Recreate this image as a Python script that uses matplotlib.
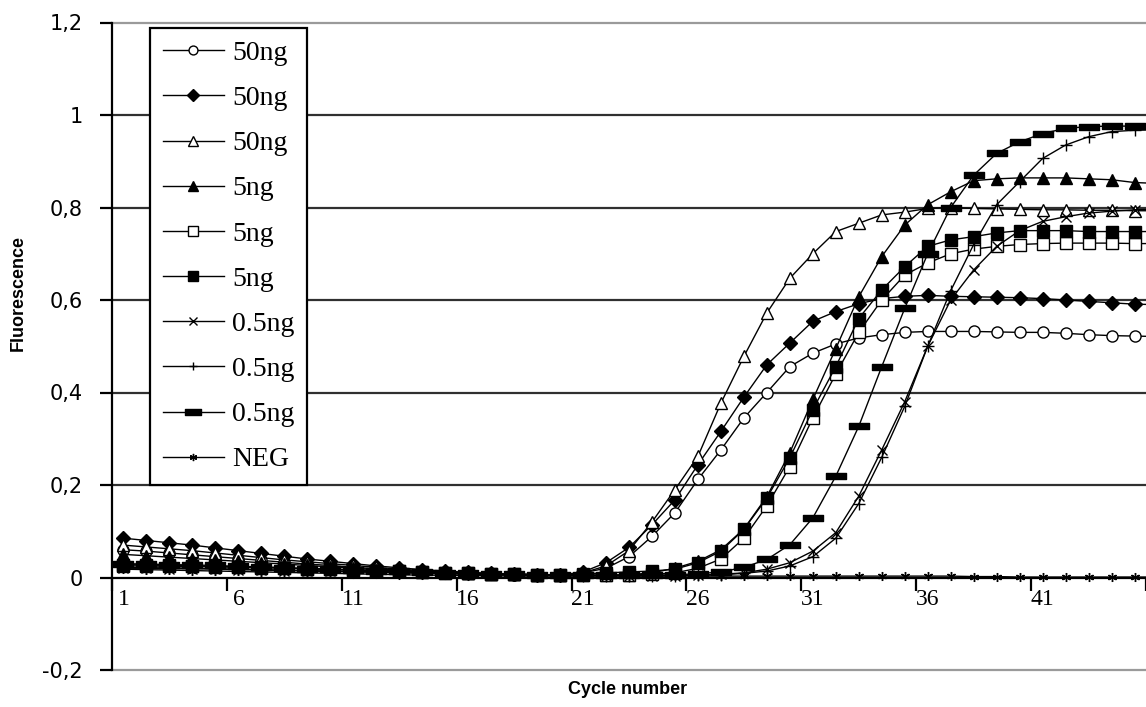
import numpy as np
import matplotlib
matplotlib.use("Agg")
import matplotlib.pyplot as plt
from matplotlib.path import Path

# ── Data ────────────────────────────────────────────────────────────────
cycles = list(range(1, 47))

circle_50 = [0.060, 0.057, 0.053, 0.049, 0.045, 0.041, 0.037, 0.033, 0.029, 0.026,
             0.022, 0.019, 0.016, 0.013, 0.011, 0.009, 0.007, 0.006, 0.005, 0.005,
             0.010, 0.020, 0.045, 0.089, 0.140, 0.212, 0.276, 0.345, 0.400, 0.456,
             0.485, 0.505, 0.518, 0.525, 0.530, 0.532, 0.532, 0.532, 0.531, 0.530,
             0.530, 0.528, 0.525, 0.523, 0.522, 0.521]
diamond_50 = [0.085, 0.080, 0.075, 0.070, 0.064, 0.058, 0.052, 0.046, 0.040, 0.035,
              0.030, 0.025, 0.021, 0.017, 0.014, 0.011, 0.009, 0.007, 0.006, 0.005,
              0.012, 0.032, 0.065, 0.114, 0.168, 0.244, 0.316, 0.390, 0.460, 0.507,
              0.554, 0.575, 0.592, 0.603, 0.608, 0.610, 0.608, 0.607, 0.606, 0.605,
              0.603, 0.600, 0.597, 0.594, 0.591, 0.590]
triangle_50 = [0.070, 0.066, 0.062, 0.058, 0.053, 0.048, 0.043, 0.038, 0.034, 0.030,
               0.026, 0.022, 0.018, 0.015, 0.012, 0.010, 0.008, 0.007, 0.006, 0.005,
               0.010, 0.025, 0.058, 0.120, 0.190, 0.262, 0.377, 0.478, 0.572, 0.647,
               0.700, 0.748, 0.766, 0.784, 0.790, 0.798, 0.800, 0.798, 0.797, 0.796,
               0.795, 0.795, 0.794, 0.794, 0.793, 0.793]
triangle_5 = [0.050, 0.047, 0.044, 0.041, 0.038, 0.035, 0.032, 0.029, 0.026, 0.023,
              0.020, 0.017, 0.015, 0.013, 0.011, 0.009, 0.008, 0.007, 0.006, 0.005,
              0.005, 0.005, 0.006, 0.010, 0.020, 0.035, 0.060, 0.105, 0.175, 0.270,
              0.385, 0.495, 0.607, 0.694, 0.762, 0.806, 0.834, 0.858, 0.862, 0.864,
              0.864, 0.864, 0.862, 0.860, 0.854, 0.852]
square_5 = [0.025, 0.025, 0.024, 0.024, 0.023, 0.022, 0.021, 0.020, 0.019, 0.018,
            0.016, 0.015, 0.013, 0.012, 0.010, 0.009, 0.008, 0.007, 0.006, 0.005,
            0.005, 0.005, 0.005, 0.007, 0.010, 0.020, 0.040, 0.085, 0.155, 0.240,
            0.345, 0.440, 0.530, 0.600, 0.654, 0.680, 0.700, 0.710, 0.716, 0.720,
            0.722, 0.723, 0.723, 0.723, 0.722, 0.722]
fsquare_5 = [0.028, 0.027, 0.026, 0.025, 0.024, 0.023, 0.022, 0.021, 0.019, 0.018,
             0.016, 0.015, 0.013, 0.012, 0.010, 0.009, 0.008, 0.007, 0.006, 0.006,
             0.008, 0.010, 0.012, 0.014, 0.018, 0.032, 0.057, 0.104, 0.172, 0.259,
             0.363, 0.456, 0.560, 0.622, 0.672, 0.716, 0.730, 0.737, 0.745, 0.750,
             0.750, 0.750, 0.748, 0.748, 0.748, 0.748]
cross_05 = [0.020, 0.020, 0.019, 0.019, 0.018, 0.017, 0.016, 0.015, 0.014, 0.013,
            0.012, 0.011, 0.010, 0.009, 0.008, 0.007, 0.006, 0.005, 0.005, 0.004,
            0.004, 0.004, 0.004, 0.004, 0.004, 0.005, 0.007, 0.010, 0.018, 0.032,
            0.057, 0.097, 0.176, 0.276, 0.380, 0.500, 0.600, 0.665, 0.716, 0.750,
            0.770, 0.780, 0.788, 0.792, 0.795, 0.796]
plus_05 = [0.022, 0.021, 0.021, 0.020, 0.019, 0.018, 0.017, 0.016, 0.015, 0.014,
           0.013, 0.012, 0.011, 0.010, 0.009, 0.008, 0.007, 0.006, 0.005, 0.005,
           0.004, 0.004, 0.004, 0.004, 0.004, 0.005, 0.006, 0.009, 0.014, 0.025,
           0.045, 0.085, 0.160, 0.260, 0.370, 0.500, 0.620, 0.720, 0.806, 0.856,
           0.906, 0.935, 0.953, 0.964, 0.967, 0.968]
dash_05 = [0.030, 0.029, 0.028, 0.027, 0.026, 0.024, 0.023, 0.021, 0.019, 0.018,
           0.016, 0.014, 0.013, 0.011, 0.010, 0.009, 0.008, 0.007, 0.006, 0.005,
           0.005, 0.005, 0.005, 0.005, 0.006, 0.008, 0.012, 0.022, 0.039, 0.071,
           0.129, 0.219, 0.327, 0.456, 0.582, 0.700, 0.800, 0.870, 0.917, 0.942,
           0.960, 0.971, 0.975, 0.976, 0.976, 0.976]
neg = [0.018, 0.017, 0.016, 0.015, 0.014, 0.013, 0.012, 0.011, 0.010, 0.009,
       0.008, 0.007, 0.006, 0.005, 0.005, 0.004, 0.004, 0.003, 0.003, 0.003,
       0.003, 0.003, 0.003, 0.003, 0.003, 0.003, 0.003, 0.003, 0.003, 0.003,
       0.003, 0.003, 0.003, 0.003, 0.003, 0.003, 0.003, 0.002, 0.002, 0.001,
       0.001, 0.001, 0.001, 0.001, 0.001, 0.001]

labels = ["50ng", "50ng", "50ng", "5ng", "5ng", "5ng", "0.5ng", "0.5ng", "0.5ng", "NEG"]
series = [circle_50, diamond_50, triangle_50, triangle_5, square_5, fsquare_5,
          cross_05, plus_05, dash_05, neg]

x_tick_labels = ["1", "6", "11", "16", "21", "26", "31", "36", "41"]
y_ticks = [-0.2, 0.0, 0.2, 0.4, 0.6, 0.8, 1.0, 1.2]
y_tick_labels = ["-0,2", "0", "0,2", "0,4", "0,6", "0,8", "1", "1,2"]

# ── Marker styles (Excel look) ──────────────────────────────────────────
bar = Path([(-1, -0.34), (1, -0.34), (1, 0.34), (-1, 0.34), (-1, -0.34)],
           [Path.MOVETO, Path.LINETO, Path.LINETO, Path.LINETO, Path.CLOSEPOLY])
styles = [
    dict(marker="o", mfc="white", ms=8),
    dict(marker="D", mfc="black", ms=7.5),
    dict(marker="^", mfc="white", ms=9),
    dict(marker="^", mfc="black", ms=9),
    dict(marker="s", mfc="white", ms=8.5),
    dict(marker="s", mfc="black", ms=8.5),
    dict(marker="x", mfc="black", ms=7.5),
    dict(marker="+", mfc="black", ms=8),
    dict(marker=bar, mfc="black", ms=14),
    dict(marker=(6, 2, 0), mfc="black", ms=6.5),
]

# ── Figure ─────────────────────────────────────────────────────────────
W, H = 1146, 707
fig = plt.figure(figsize=(W / 100, H / 100), dpi=100)
fig.patch.set_facecolor("white")
left, right, top, bottom = 112, 1146, 22.5, 670
ax = fig.add_axes([left / W, (H - bottom) / H, (right - left) / W, (bottom - top) / H])

for vals, lab, st in zip(series, labels, styles):
    ax.plot(cycles, vals, color="black", lw=1.0, mec="black", mew=1.0,
            label=lab, clip_on=True, **st)

ax.set_xlim(0.5, 0.5 + (right - left) / 23.1)
ax.set_ylim(-0.2, 1.2)

# gridlines & plot-area border
for yv in [0.2, 0.4, 0.6, 0.8, 1.0]:
    ax.axhline(yv, color="#303030", lw=1.6, zorder=0)
for yv in [-0.2, 1.2]:
    ax.axhline(yv, color="#9a9a9a", lw=1.6, zorder=0, clip_on=False)

for s in ["top", "right"]:
    ax.spines[s].set_visible(False)
ax.spines["left"].set_linewidth(1.6)
ax.spines["bottom"].set_position(("data", 0))
ax.spines["bottom"].set_linewidth(1.6)

ax.set_yticks(y_ticks)
ax.set_yticklabels(y_tick_labels, fontsize=15, family="DejaVu Sans")
ax.tick_params(axis="y", direction="out", length=9, width=1.6, pad=12)

ax.set_xticks(np.arange(0.5, 46, 5))
ax.set_xticklabels([])
ax.set_xticks(np.arange(1, 42, 5), minor=True)
ax.set_xticklabels(x_tick_labels, minor=True, fontsize=17, family="Liberation Serif")
ax.tick_params(axis="x", which="major", direction="out", length=9, width=1.6)
ax.tick_params(axis="x", which="minor", length=0, pad=8)

fig.text(18 / W, 1 - 293 / H, "Fluorescence", fontsize=13, fontweight="bold",
         family="Liberation Sans", rotation=90, ha="center", va="center")
fig.text(628 / W, 1 - 690 / H, "Cycle number", fontsize=13, fontweight="bold",
         family="Liberation Sans", ha="center", va="center")

leg = ax.legend(loc="upper left", bbox_to_anchor=((150 - left) / (right - left),
                                                 1 - (28 - top) / (bottom - top)),
                borderaxespad=0, prop={"family": "Liberation Serif", "size": 20},
                fancybox=False, framealpha=1, edgecolor="black", handlelength=2.2,
                handletextpad=0.3, labelspacing=0.71, borderpad=0.45, markerscale=0.8)
leg.get_frame().set_linewidth(1.6)

fig.savefig("out.png", dpi=100, facecolor="white")
